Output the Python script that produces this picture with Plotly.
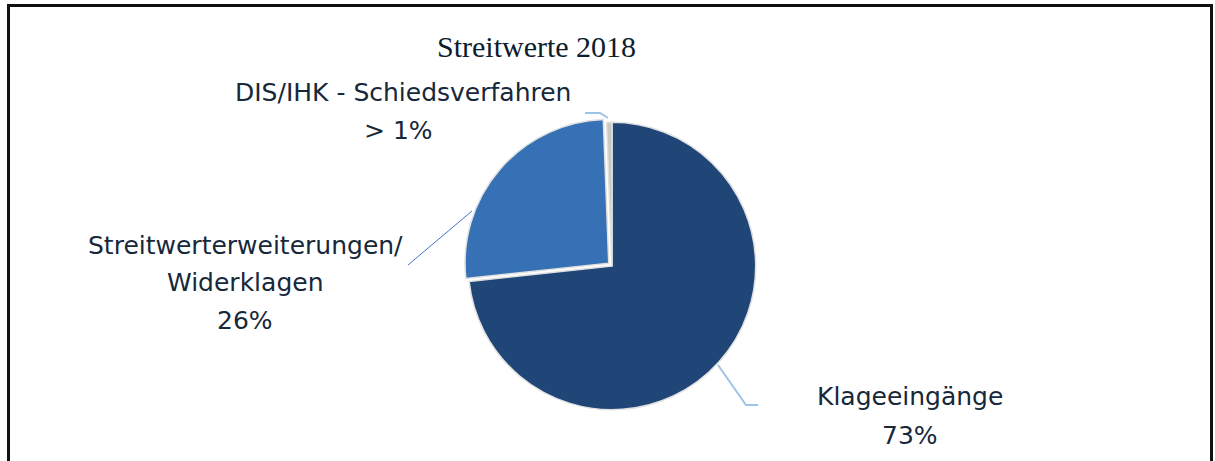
import plotly.graph_objects as go

# Data
categories = ["Klageeingänge", "Streitwerterweiterungen/ Widerklagen", "DIS/IHK - Schiedsverfahren"]
values = [73, 26, 0.6]
pct_labels = ["73%", "26%", "> 1%"]
title_text = "Streitwerte 2018"

W, H = 1215, 461

def px(x):
    return x / W

def py(y):
    return 1 - y / H

colors = ["#204677", "#3670b5", "#c8c8c8"]

fig = go.Figure()
fig.add_trace(go.Pie(
    labels=categories,
    values=values,
    sort=False,
    direction="clockwise",
    rotation=0,
    pull=[0, 0.03, 0],
    textinfo="none",
    hoverinfo="label+percent",
    marker=dict(colors=colors, line=dict(color="#e0e0e0", width=1.5)),
    domain=dict(x=[px(612 - 148), px(612 + 148)], y=[py(266 + 148), py(266 - 148)]),
    showlegend=False,
))

label_font = dict(family="DejaVu Sans", size=25, color="#16283a")
ann = []
def add_text(t, x, y, font=label_font):
    ann.append(dict(text=t, x=px(x), y=py(y), xref="paper", yref="paper",
                    showarrow=False, xanchor="center", yanchor="middle", font=font))

add_text(title_text, 536, 47, dict(family="Liberation Serif", size=30, color="#0b1d2e"))
add_text(categories[2], 403, 92)
add_text(pct_labels[2], 398, 130)
add_text("Streitwerterweiterungen/", 245, 245)
add_text("Widerklagen", 245, 282)
add_text(pct_labels[1], 245, 320)
add_text(categories[0], 910, 396)
add_text(pct_labels[0], 910, 435)

def path(points):
    d = "M " + " L ".join(f"{px(x)},{py(y)}" for x, y in points)
    return d

shapes = [
    dict(type="rect", xref="paper", yref="paper", x0=px(8.5), x1=px(1211.5), y0=-0.1, y1=py(5.5),
         line=dict(color="#111111", width=3)),
    dict(type="path", xref="paper", yref="paper", path=path([(585, 113), (600, 113), (608, 118)]),
         line=dict(color="#9dc3e6", width=2)),
    dict(type="path", xref="paper", yref="paper", path=path([(408, 265), (472, 211)]),
         line=dict(color="#4472c4", width=1)),
    dict(type="path", xref="paper", yref="paper", path=path([(718, 365), (746, 405), (758, 405)]),
         line=dict(color="#9dc3e6", width=2)),
]

fig.update_layout(
    width=W, height=H,
    margin=dict(l=0, r=0, t=0, b=0),
    paper_bgcolor="white",
    plot_bgcolor="white",
    annotations=ann,
    shapes=shapes,
)

fig.write_html("out.html", config={"displayModeBar": False},
               post_script="document.body.style.margin='0px';")
